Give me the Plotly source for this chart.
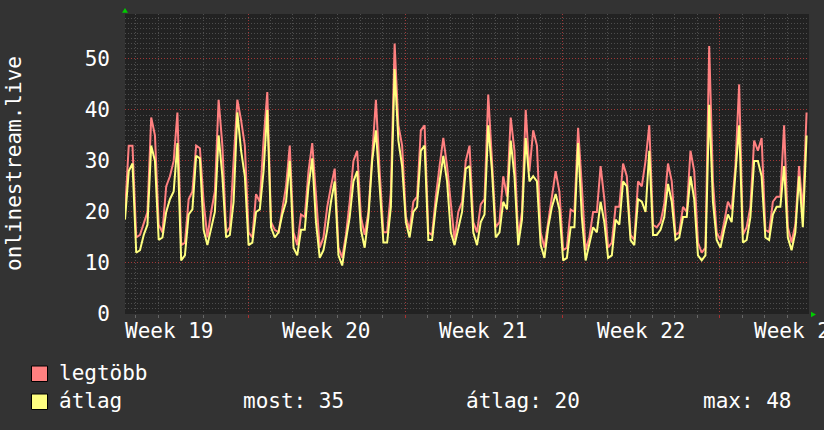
import plotly.graph_objects as go

# ---- data (sampled every 4 hours) ----
legtobb = [20, 33, 33, 15, 15.5, 18, 20, 38.5, 35, 17.5, 16, 25, 27, 30, 39.5, 13.5, 14, 22.5, 24, 33,
           32.5, 22, 15, 20, 24, 42, 33, 16, 17, 30, 42, 38, 33, 16, 15, 23.5, 22, 34, 43.5, 18,
           16.5, 16, 21, 25, 33, 16, 13.5, 19.5, 19, 28, 33.5, 24, 13, 15, 21, 25, 28.5, 13, 11, 15.5,
           22, 30, 32, 19, 15.5, 20, 32, 42, 28, 16, 16, 24, 53, 37, 33, 19, 16.5, 22, 23, 36,
           37, 16, 15.5, 23, 29, 34.5, 29, 22, 14.5, 20, 22, 30, 33, 18, 16, 21.5, 22.5, 43, 31, 17,
           18, 27, 23, 38.5, 32, 15, 20, 40, 28, 36, 33, 16, 13, 18, 23, 28, 24, 12.5, 13, 20.5,
           20, 36.5, 25, 12.5, 15, 20, 20, 29, 22.5, 13, 14, 21, 21, 29.5, 27, 15.5, 14.5, 26, 25, 30,
           37, 17.5, 17, 18, 21.5, 29.5, 26, 15.5, 16, 21, 20, 32, 28, 14, 12, 13, 52.5, 26, 16, 14.5,
           18, 22, 20.5, 29, 45, 15.5, 17, 21, 34, 32, 34.5, 16.5, 16, 22, 23, 23, 37, 17, 14, 17.5,
           29, 20, 39.5]
atlag = [18.5, 28, 29.5, 12, 12.5, 15.5, 17.5, 33, 30, 14.5, 15, 20, 22.5, 24, 33.5, 10.5, 11.5, 19.5, 20.5, 31,
         30.5, 16.5, 13.5, 16.5, 20, 35, 27, 15, 15.5, 22, 39.5, 32, 27, 13.5, 14, 20, 20.5, 28, 40, 17,
         15, 16, 19.5, 22, 30, 13, 11.5, 16.5, 16.5, 25, 30.5, 18, 11, 12.5, 16.5, 22, 26, 11.5, 9.5, 14.5,
         19, 26, 28, 16.5, 13, 19, 30, 36, 25, 14, 14, 21, 48, 34, 29, 18, 15, 20, 21, 32,
         33, 14.5, 14.5, 21, 26, 31, 26, 16, 13.5, 17, 20, 28.5, 29, 16, 13.5, 18, 19.5, 37, 28, 15,
         16, 22, 20.5, 34, 27, 13.5, 18.5, 34.5, 26, 27, 26, 13.5, 11, 17, 21, 23.5, 20.5, 10.5, 11, 17,
         17, 33.5, 19, 10.5, 14, 17, 16, 22, 18, 11, 11.5, 18.5, 17.5, 26, 25, 14.5, 13.5, 22.5, 22, 20,
         32, 15.5, 15.5, 16.5, 19, 25.5, 22, 14.5, 15, 19, 19, 27, 22.5, 11.5, 10.5, 11.5, 41, 22, 14.5, 13,
         16.5, 19.5, 18, 28, 37, 14, 14.5, 19, 30, 30, 27, 15, 14.5, 19.5, 21, 21, 29, 15, 12.5, 16,
         27, 17, 35]
step_hours = 4
hours = [step_hours * i for i in range(len(legtobb))]

x_range = [0, 730.6]
day_tick0 = 11.4
week_bounds = [131.4, 299.4, 467.4, 635.4]
week_label_pos = [47.4, 215.4, 383.4, 551.4, 719.4]
week_labels = ["Week 19", "Week 20", "Week 21", "Week 22", "Week 23"]
y_ticks = [0, 10, 20, 30, 40, 50]
y_range = [0, 58.8]

stat_labels = ["most: 35", "átlag: 20", "max: 48"]
series_names = ["legtöbb", "átlag"]
series_colors = ["#ff8080", "#ffff80"]

# ---- layout geometry ----
W, H = 824, 430
L, R, T, B = 125, 15, 14, 116
PW, PH = W - L - R, H - T - B
FONT = "DejaVu Sans Mono"
BG = "#333333"
PLOT_BG = "#222222"


def px(xp):
    return (xp - L) / PW


def py(yp):
    return (H - B - yp) / PH


fig = go.Figure()
for vals, name, col in zip([legtobb, atlag], series_names, series_colors):
    fig.add_trace(go.Scatter(x=hours, y=vals, mode="lines", name=name,
                             line=dict(color=col, width=2),
                             showlegend=False, hoverinfo="skip"))

minor_grid = "#4e4e4e"
major_grid = "rgba(190,50,50,0.75)"

fig.update_layout(
    width=W, height=H,
    margin=dict(l=L, r=R, t=T, b=B, pad=0, autoexpand=False),
    paper_bgcolor=BG, plot_bgcolor=PLOT_BG,
    font=dict(family=FONT, size=21, color="white"),
    xaxis=dict(range=x_range, tickmode="array", tickvals=week_bounds,
               showticklabels=False, showgrid=True, gridcolor=major_grid, griddash="1px,2px",
               gridwidth=1, zeroline=False, showline=False, ticks="outside", ticklen=3,
               tickcolor="#aa3030", fixedrange=True,
               minor=dict(tick0=day_tick0, dtick=24, showgrid=True, gridcolor=minor_grid,
                          griddash="1px,2px", ticks="outside", ticklen=3, tickcolor="#666666")),
    yaxis=dict(range=y_range, tickmode="array", tickvals=y_ticks, showgrid=True,
               gridcolor=major_grid, griddash="1px,2px", zeroline=False, showline=False,
               ticks="", ticklabelstandoff=14, fixedrange=True,
               tickfont=dict(family=FONT, size=21, color="white"),
               minor=dict(dtick=1, tick0=0, showgrid=True, gridcolor=minor_grid,
                          griddash="1px,2px")),
)

shapes = []
# green arrows
shapes.append(dict(type="path", xref="paper", yref="paper",
                   path=f"M {px(122)} {py(12.7)} L {px(128)} {py(12.7)} L {px(125)} {py(8)} Z",
                   fillcolor="#00cc00", line=dict(width=0)))
shapes.append(dict(type="path", xref="paper", yref="paper",
                   path=f"M {px(811)} {py(311.8)} L {px(811)} {py(317.2)} L {px(816)} {py(314.5)} Z",
                   fillcolor="#00cc00", line=dict(width=0)))
# legend squares
for i, col in enumerate(series_colors):
    y0 = 366 + i * 28
    shapes.append(dict(type="rect", xref="paper", yref="paper",
                       x0=px(31.5), x1=px(47.5), y0=py(y0), y1=py(y0 + 15.5),
                       fillcolor=col, line=dict(color="black", width=1)))
fig.update_layout(shapes=shapes)

ann = []
# week labels on the time axis
for xv, lab in zip(week_label_pos, week_labels):
    ann.append(dict(text=lab, xref="x", yref="paper", x=xv, y=py(331),
                    xanchor="center", yanchor="middle", showarrow=False,
                    font=dict(family=FONT, size=21, color="white")))
for i, name in enumerate(series_names):
    ann.append(dict(text=name, xref="paper", yref="paper", x=px(57), y=py(373 + i * 28),
                    xanchor="left", yanchor="middle", showarrow=False,
                    font=dict(family=FONT, size=21, color="white")))
for xpos, s in zip([241, 464, 701], stat_labels):
    ann.append(dict(text=s, xref="paper", yref="paper", x=px(xpos), y=py(401),
                    xanchor="left", yanchor="middle", showarrow=False,
                    font=dict(family=FONT, size=21, color="white")))
ann.append(dict(text="onlinestream.live", xref="paper", yref="paper", x=px(14), y=py(164),
                xanchor="center", yanchor="middle", textangle=-90, showarrow=False,
                font=dict(family=FONT, size=21, color="white")))
fig.update_layout(annotations=ann)

fig.write_html("out.html")
